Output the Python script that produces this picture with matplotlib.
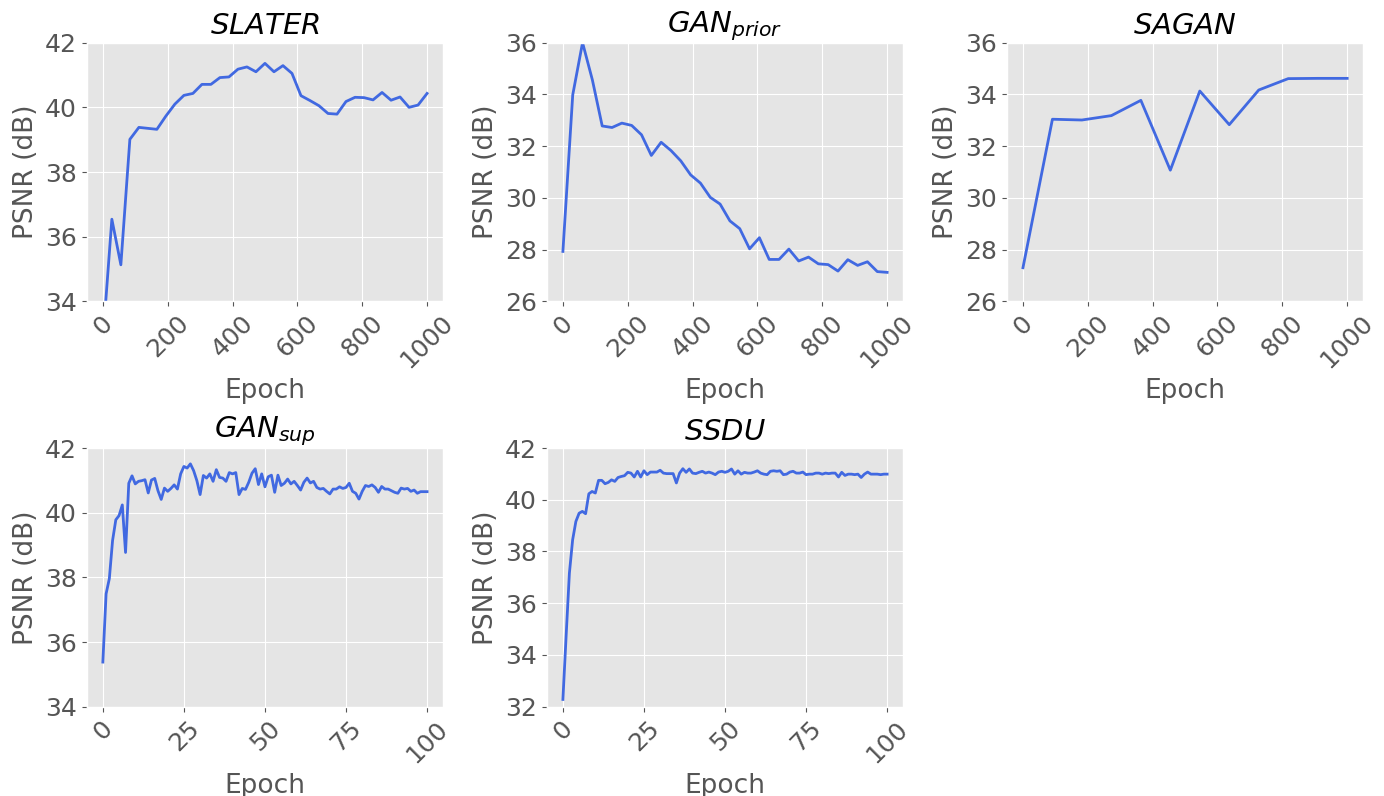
import numpy as np
import matplotlib
matplotlib.use("Agg")
import matplotlib.pyplot as plt

plt.style.use("ggplot")
plt.rcParams["font.size"] = 15

# ---------------- data ----------------
slater_epochs = np.linspace(0, 1000, 37)
slater_psnr = [32.8, 36.54, 35.13, 39.01, 39.38, 39.35, 39.32, 39.73, 40.10, 40.37,
               40.43, 40.71, 40.71, 40.92, 40.94, 41.18, 41.25, 41.10, 41.36, 41.10,
               41.29, 41.05, 40.36, 40.21, 40.05, 39.81, 39.79, 40.18, 40.31, 40.30,
               40.23, 40.46, 40.22, 40.32, 40.00, 40.07, 40.43]

ganprior_epochs = np.linspace(0, 1000, 34)
ganprior_psnr = [27.93, 33.98, 36.0, 34.56, 32.78, 32.72, 32.89, 32.80, 32.44, 31.64,
                 32.15, 31.83, 31.43, 30.89, 30.57, 30.02, 29.76, 29.11, 28.81, 28.03,
                 28.46, 27.62, 27.62, 28.02, 27.56, 27.71, 27.45, 27.42, 27.17, 27.61,
                 27.39, 27.53, 27.15, 27.12]

sagan_epochs = np.linspace(0, 1000, 12)
sagan_psnr = [27.30, 33.04, 33.01, 33.18, 33.77, 31.07, 34.13, 32.83, 34.17, 34.61,
              34.62, 34.62]

gansup_epochs = np.arange(0, 101)
gansup_psnr = [35.38, 37.49, 37.96, 39.14, 39.78, 39.91, 40.24, 38.77, 40.91, 41.14,
               40.89, 40.97, 40.99, 41.02, 40.61, 41.01, 41.06, 40.68, 40.41, 40.76,
               40.66, 40.75, 40.86, 40.73, 41.20, 41.43, 41.38, 41.51, 41.30, 40.99,
               40.56, 41.15, 41.07, 41.20, 40.97, 41.33, 41.09, 41.07, 40.97, 41.24,
               41.20, 41.24, 40.56, 40.75, 40.72, 40.94, 41.22, 41.36, 40.87, 41.20,
               40.80, 41.11, 41.16, 40.63, 41.16, 40.84, 40.91, 41.04, 40.89, 40.97,
               40.84, 40.70, 40.94, 41.07, 40.92, 40.97, 40.78, 40.73, 40.75, 40.66,
               40.58, 40.73, 40.73, 40.80, 40.75, 40.78, 40.91, 40.66, 40.60, 40.42,
               40.66, 40.84, 40.81, 40.86, 40.78, 40.63, 40.81, 40.73, 40.73, 40.68,
               40.63, 40.60, 40.76, 40.73, 40.75, 40.66, 40.70, 40.60, 40.65, 40.65,
               40.65]

ssdu_epochs = np.arange(0, 101)
ssdu_psnr = [32.28, 34.75, 37.16, 38.45, 39.16, 39.48, 39.55, 39.46, 40.23, 40.32,
             40.26, 40.75, 40.75, 40.62, 40.67, 40.77, 40.71, 40.86, 40.90, 40.93,
             41.06, 41.03, 40.88, 41.10, 40.88, 41.12, 40.97, 41.07, 41.07, 41.07,
             41.14, 41.03, 41.01, 41.01, 41.01, 40.65, 41.03, 41.20, 41.06, 41.19,
             41.03, 41.01, 41.06, 41.10, 41.03, 41.07, 41.03, 40.97, 41.07, 41.10,
             41.06, 41.10, 41.19, 40.99, 41.12, 40.99, 41.06, 41.03, 41.03, 41.07,
             41.12, 41.03, 40.99, 40.97, 41.10, 41.12, 41.10, 41.12, 40.97, 40.99,
             41.07, 41.10, 41.03, 41.03, 41.07, 40.97, 40.99, 40.99, 41.03, 41.03,
             40.99, 41.03, 41.01, 41.03, 41.03, 40.88, 41.06, 40.94, 40.99, 40.99,
             40.97, 40.99, 40.86, 40.99, 41.07, 40.99, 40.99, 40.99, 40.97, 40.99,
             40.99]

titles = [r"$SLATER$", r"$GAN_{prior}$", r"$SAGAN$", r"$GAN_{sup}$", r"$SSDU$"]
series = [(slater_epochs, slater_psnr), (ganprior_epochs, ganprior_psnr),
          (sagan_epochs, sagan_psnr), (gansup_epochs, gansup_psnr),
          (ssdu_epochs, ssdu_psnr)]
ylims = [(34, 42), (26, 36), (26, 36), (34, 42), (32, 42)]
xticks_long = [0, 200, 400, 600, 800, 1000]
xticks_short = [0, 25, 50, 75, 100]

# ---------------- plot ----------------
fig, axes = plt.subplots(2, 3, figsize=(13.84, 7.96), dpi=100)
fig.subplots_adjust(left=0.0626, right=0.9851, top=0.9464, bottom=0.1122,
                    wspace=0.29, hspace=0.567)
axes = axes.ravel()
axes[5].remove()

for i, (ax, (x, y)) in enumerate(zip(axes[:5], series)):
    ax.plot(x, y, color="royalblue", linewidth=2)
    ax.set_ylim(*ylims[i])
    ax.set_xticks(xticks_long if i < 3 else xticks_short)
    ax.set_title(titles[i], fontsize=21, color="black")
    ax.set_xlabel("Epoch", fontsize=19)
    ax.set_ylabel("PSNR (dB)", fontsize=19)
    ax.tick_params(axis="both", labelsize=18)
    for lbl in ax.get_xticklabels():
        lbl.set_rotation(45)

fig.savefig("out.png", dpi=100)
